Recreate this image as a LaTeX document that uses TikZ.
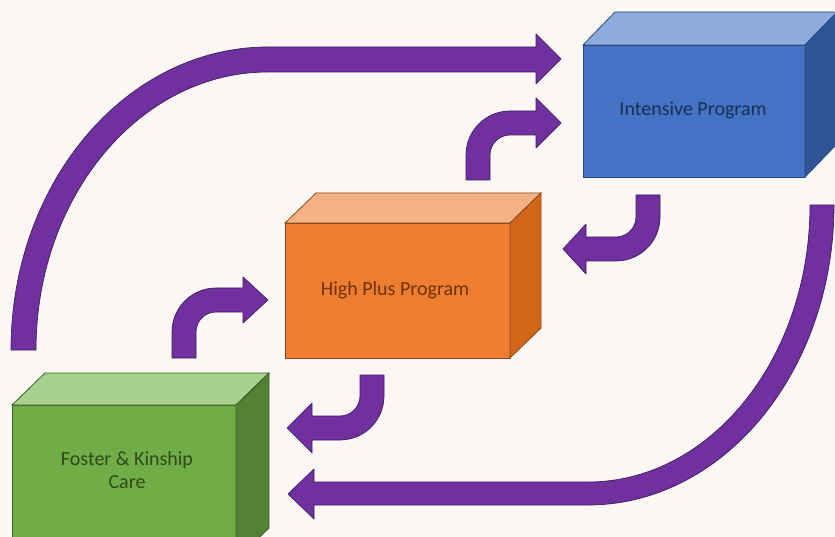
\documentclass[tikz,border=0pt]{standalone}
\usepackage{fontspec}
\setmainfont{Carlito}
\definecolor{bg}{RGB}{250,247,244}
\definecolor{arrowfill}{HTML}{7030A0}
\definecolor{arrowline}{HTML}{3E1F5C}
\definecolor{gfront}{HTML}{70AD47}
\definecolor{gtop}{HTML}{A9D18E}
\definecolor{gside}{HTML}{548235}
\definecolor{gline}{HTML}{3B5E26}
\definecolor{gtext}{HTML}{2E4A1C}
\definecolor{ofront}{HTML}{ED7D31}
\definecolor{otop}{HTML}{F4B183}
\definecolor{oside}{HTML}{D4661A}
\definecolor{oline}{HTML}{8A4A1E}
\definecolor{otext}{HTML}{70330A}
\definecolor{bfront}{HTML}{4472C4}
\definecolor{btop}{HTML}{8FAADC}
\definecolor{bside}{HTML}{2F5597}
\definecolor{bline}{HTML}{2A4A80}
\definecolor{btext}{HTML}{1A2F55}
\tikzset{
  bigarrow/.style={fill=arrowfill, draw=arrowline, line width=0.7pt, line join=round},
  boxlabel/.style={font=\fontsize{20}{23}\selectfont, align=center, inner sep=0pt},
}
\begin{document}
\begin{tikzpicture}[x=1pt,y=-1pt]
\path[use as bounding box, fill=bg] (0,0) rectangle (835,537);
\begin{scope}
\clip (0,0) rectangle (835,537);
% ---------- Green box ----------
\filldraw[fill=gfront, draw=gline, line width=0.8pt] (12,405) rectangle (236,560);
\filldraw[fill=gtop, draw=gline, line width=0.8pt] (12,405) -- (45,373) -- (269,373) -- (236,405) -- cycle;
\filldraw[fill=gside, draw=gline, line width=0.8pt] (236,405) -- (269,373) -- (269,528) -- (236,560) -- cycle;
\node[boxlabel, text=gtext] (foster) at (127,470) {Foster \& Kinship\\Care};
% ---------- Orange box ----------
\filldraw[fill=ofront, draw=oline, line width=0.8pt] (285,223) rectangle (510,358);
\filldraw[fill=otop, draw=oline, line width=0.8pt] (285,223) -- (316,193) -- (541,193) -- (510,223) -- cycle;
\filldraw[fill=oside, draw=oline, line width=0.8pt] (510,223) -- (541,193) -- (541,328) -- (510,358) -- cycle;
\node[boxlabel, text=otext] (high) at (395,290) {High Plus Program};
% ---------- Blue box ----------
\filldraw[fill=bfront, draw=bline, line width=0.8pt] (583,45) rectangle (805,177);
\filldraw[fill=btop, draw=bline, line width=0.8pt] (583,45) -- (615,12) -- (837,12) -- (805,45) -- cycle;
\filldraw[fill=bside, draw=bline, line width=0.8pt] (805,45) -- (837,12) -- (837,144) -- (805,177) -- cycle;
\node[boxlabel, text=btext] (intensive) at (693,110) {Intensive Program};
% ---------- Big arrow: Foster -> Intensive ----------
\filldraw[bigarrow] (11,350) .. controls (11,182.7) and (126.1,47) .. (268,47)
  -- (536,47) -- (536,34) -- (561,59) -- (536,84) -- (536,72) -- (268,72)
  .. controls (139.9,72) and (36,196.5) .. (36,350) -- cycle;
% ---------- Big arrow: Intensive -> Foster ----------
\filldraw[bigarrow] (834,205) .. controls (834,370.7) and (723.9,505) .. (588,505)
  -- (314,505) -- (314,519) -- (288,494) -- (314,469) -- (314,482) -- (588,482)
  .. controls (710.6,482) and (810,358) .. (810,205) -- cycle;
% ---------- Small arrow: Foster -> High Plus ----------
\filldraw[bigarrow] (172,358) -- (172,332) .. controls (172,307.7) and (191.7,288) .. (216,288)
  -- (243,288) -- (243,277) -- (268,300) -- (243,323) -- (243,312) -- (216,312)
  .. controls (205,312) and (196,321) .. (196,332) -- (196,358) -- cycle;
% ---------- Small arrow: High Plus -> Intensive ----------
\filldraw[bigarrow] (466,180) -- (466,155) .. controls (466,130.7) and (485.7,111) .. (510,111)
  -- (536,111) -- (536,98) -- (561,123) -- (536,148) -- (536,135) -- (510,135)
  .. controls (499,135) and (490,144) .. (490,155) -- (490,180) -- cycle;
% ---------- Small arrow: Intensive -> High Plus ----------
\filldraw[bigarrow] (636,195) -- (660,195) -- (660,217) .. controls (660,241.3) and (640.3,261) .. (616,261)
  -- (586,261) -- (586,274) -- (563,249) -- (586,224) -- (586,237) -- (616,237)
  .. controls (627,237) and (636,228) .. (636,217) -- cycle;
% ---------- Small arrow: High Plus -> Foster ----------
\filldraw[bigarrow] (360,375) -- (384,375) -- (384,396) .. controls (384,420.3) and (364.3,440) .. (340,440)
  -- (312,440) -- (312,453) -- (287,428) -- (312,403) -- (312,416) -- (340,416)
  .. controls (351,416) and (360,407) .. (360,396) -- cycle;
\end{scope}
\end{tikzpicture}
\end{document}
